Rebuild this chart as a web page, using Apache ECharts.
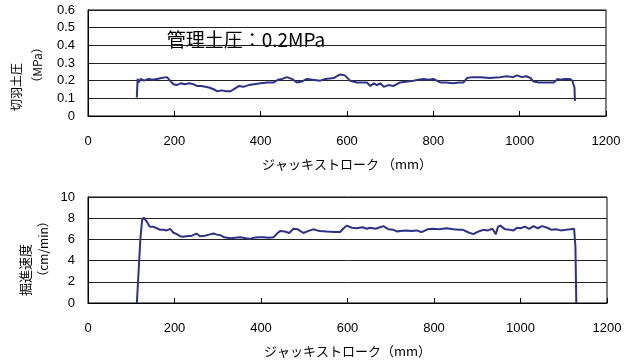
<!DOCTYPE html>
<html>
<head>
<meta charset="utf-8">
<script src="https://cdn.jsdelivr.net/npm/echarts@6/dist/echarts.min.js"></script>
<style>html,body{margin:0;padding:0;background:#fff;}#c{width:633px;height:363px;}</style>
</head>
<body>
<div id="c"></div>
<script>
// Top: face earth pressure (MPa) vs jack stroke (mm)
const pressureStroke = [113,115,118,122,130,140,150,160,170,183,190,198,205,215,225,235,244,252,262,272,282,292,300,310,320,330,340,350,360,372,385,400,415,430,440,450,461,472,484,495,507,520,538,550,569,584,595,607,623,635,646,654,662,669,677,685,696,708,723,740,754,765,777,790,800,808,816,830,845,860,870,878,890,910,930,955,970,985,994,1005,1015,1025,1032,1045,1060,1079,1088,1094,1105,1117,1122,1125,1127,1128];
const pressureValues = [0.105,0.21,0.19,0.21,0.20,0.21,0.205,0.21,0.215,0.22,0.20,0.18,0.175,0.185,0.18,0.185,0.18,0.17,0.17,0.165,0.16,0.15,0.14,0.145,0.14,0.14,0.155,0.17,0.165,0.175,0.18,0.185,0.19,0.19,0.205,0.21,0.22,0.21,0.19,0.195,0.21,0.205,0.20,0.21,0.215,0.235,0.23,0.20,0.19,0.19,0.19,0.17,0.185,0.175,0.185,0.165,0.175,0.17,0.19,0.195,0.20,0.205,0.21,0.205,0.21,0.20,0.19,0.19,0.185,0.19,0.19,0.215,0.22,0.22,0.215,0.22,0.225,0.22,0.23,0.22,0.225,0.215,0.195,0.19,0.19,0.19,0.21,0.205,0.21,0.21,0.20,0.21,0.16,0.085];
// Bottom: excavation speed (cm/min) vs jack stroke (mm)
const speedStroke = [113,117,121,125,129,133,137,143,150,159,167,175,182,190,197,205,213,220,228,240,251,259,270,280,290,298,306,315,329,340,352,365,375,383,395,406,418,429,436,444,455,465,475,485,498,510,521,530,537,552,570,583,590,598,610,621,635,645,652,665,675,683,695,706,715,721,735,748,760,770,775,785,798,812,829,845,858,867,880,891,903,914,925,935,943,948,953,965,975,984,992,1000,1010,1020,1030,1040,1050,1062,1072,1082,1093,1105,1115,1124,1127,1129];
const speedValues = [0,3,6,7.8,8.05,8.0,7.6,7.2,7.2,7.05,6.9,6.9,6.85,7.0,6.65,6.5,6.3,6.25,6.3,6.35,6.55,6.3,6.35,6.45,6.55,6.45,6.4,6.2,6.1,6.15,6.2,6.1,6.05,6.15,6.2,6.2,6.15,6.2,6.5,6.8,6.75,6.6,7.0,6.95,6.6,6.8,6.95,6.85,6.8,6.75,6.7,6.7,7.0,7.3,7.1,7.05,7.15,7.0,7.1,7.0,7.15,7.25,6.95,6.9,6.75,6.8,6.85,6.8,6.85,6.7,6.75,6.95,7.0,6.95,7.05,6.95,6.9,6.9,6.65,6.5,6.75,6.9,6.85,7.0,6.5,7.2,7.3,6.95,6.9,6.85,7.1,7.05,7.2,7.0,7.25,7.05,7.25,7.1,6.9,6.95,6.85,6.9,6.95,7.0,5.3,0];
const xTicks = {min: 0, max: 1200, interval: 200};
const pressureTicks = {min: 0, max: 0.6, interval: 0.1};
const speedTicks = {min: 0, max: 10, interval: 2};
const xName1 = 'ジャッキストローク （mm）';
const xName2 = 'ジャッキストローク（mm）';
const annotation = '管理土圧：0.2MPa';

const numFont = 'Liberation Sans';
const cjkFont = 'Noto Sans CJK JP';
const lineColor = '#2E3188';
const gridColor = '#222';

function xAxis(gridIndex, name) {
  return {
    type: 'value', gridIndex, min: xTicks.min, max: xTicks.max, interval: xTicks.interval,
    name, nameLocation: 'middle', nameGap: 42,
    nameTextStyle: {fontFamily: cjkFont, fontSize: 13, color: '#000'},
    axisLine: {show: true, lineStyle: {color: '#000', width: 1}},
    axisTick: {show: true, inside: true, length: 5, lineStyle: {color: '#000'}},
    axisLabel: {margin: 19, fontFamily: numFont, fontSize: 13, color: '#000', formatter: v => String(v)},
    splitLine: {show: false}
  };
}
function yAxis(gridIndex, t, fmt) {
  return {
    type: 'value', gridIndex, min: t.min, max: t.max, interval: t.interval,
    axisLine: {show: true, lineStyle: {color: '#000', width: 1}},
    axisTick: {show: false},
    axisLabel: {margin: 13, fontFamily: numFont, fontSize: 13, color: '#000', formatter: fmt},
    splitLine: {show: true, lineStyle: {color: gridColor, width: 1}}
  };
}

const chart = echarts.init(document.getElementById('c'));
chart.setOption({
  animation: false,
  backgroundColor: '#fff',
  grid: [
    {left: 88, right: 27, top: 10, height: 106, show: true, borderColor: '#000', borderWidth: 1},
    {left: 88, right: 26, top: 197, height: 106, show: true, borderColor: '#000', borderWidth: 1}
  ],
  xAxis: [xAxis(0, xName1), xAxis(1, xName2)],
  yAxis: [
    yAxis(0, pressureTicks, v => v === 0 ? '0' : v.toFixed(1)),
    yAxis(1, speedTicks, v => String(v))
  ],
  graphic: [
    {type: 'text', x: 246, y: 40, style: {text: annotation, fontFamily: cjkFont, fontSize: 19, fill: '#000', textAlign: 'center', textVerticalAlign: 'middle'}},
    {type: 'text', x: 16, y: 87, rotation: Math.PI / 2, style: {text: '切羽土圧', fontFamily: cjkFont, fontSize: 12, fill: '#000', textAlign: 'center', textVerticalAlign: 'middle'}},
    {type: 'text', x: 37, y: 65, rotation: Math.PI / 2, style: {text: '（MPa）', fontFamily: cjkFont, fontSize: 12, fill: '#000', textAlign: 'center', textVerticalAlign: 'middle'}},
    {type: 'text', x: 25, y: 270, rotation: Math.PI / 2, style: {text: '掘進速度', fontFamily: cjkFont, fontSize: 13, fill: '#000', textAlign: 'center', textVerticalAlign: 'middle'}},
    {type: 'text', x: 43, y: 249, rotation: Math.PI / 2, style: {text: '（cm/min）', fontFamily: cjkFont, fontSize: 12, fill: '#000', textAlign: 'center', textVerticalAlign: 'middle'}}
  ],
  series: [
    {type: 'line', xAxisIndex: 0, yAxisIndex: 0, showSymbol: false, symbol: 'none',
     lineStyle: {color: lineColor, width: 2}, data: pressureStroke.map((x, i) => [x, pressureValues[i]])},
    {type: 'line', xAxisIndex: 1, yAxisIndex: 1, showSymbol: false, symbol: 'none',
     lineStyle: {color: lineColor, width: 2}, data: speedStroke.map((x, i) => [x, speedValues[i]])}
  ]
});
</script>
</body>
</html>
